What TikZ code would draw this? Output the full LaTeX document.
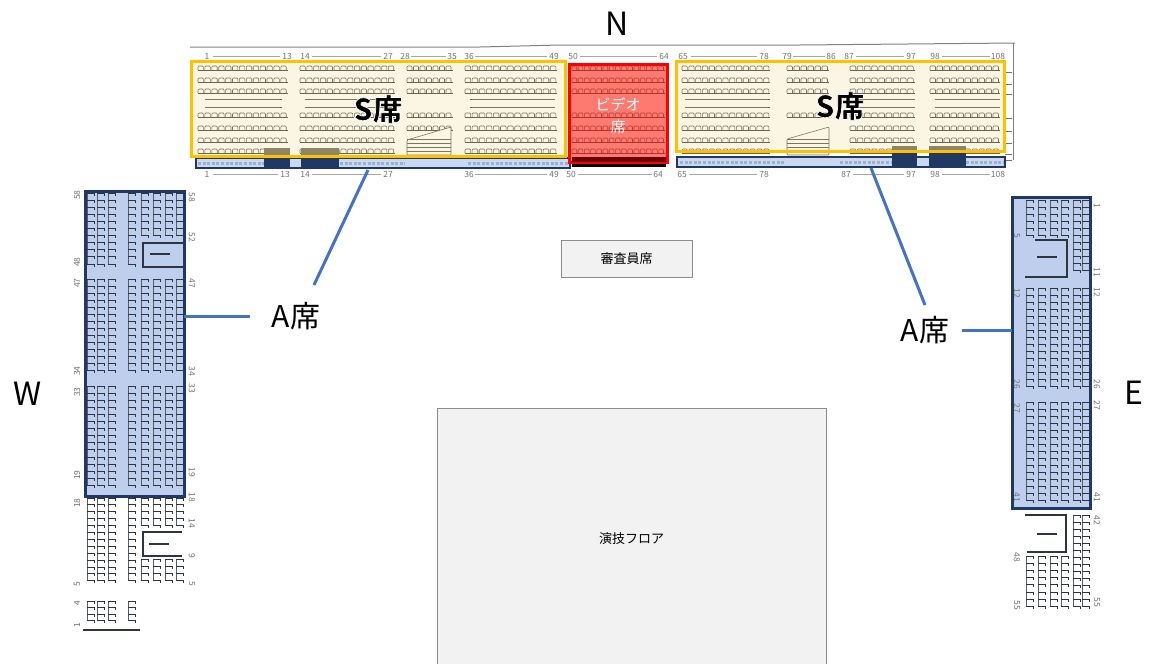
\documentclass[tikz,border=0pt]{standalone}
\usepackage{fontspec}
\setmainfont{Noto Sans CJK JP}
\newfontfamily\boldcjk{Noto Sans CJK JP Black}

\definecolor{creamfill}{HTML}{FBF5E3}
\definecolor{seatgray}{HTML}{7A7464}
\definecolor{seatdark}{HTML}{2E3440}
\definecolor{navyline}{HTML}{1F3864}
\definecolor{bluefill}{HTML}{BDCFEC}
\definecolor{leadblue}{HTML}{4472C4}
\definecolor{orangeline}{HTML}{FFC000}
\definecolor{brownbar}{HTML}{8E8468}

% heavy black letters with a white stroke round them
\newcommand{\haloed}[1]{\special{pdf:code 2 Tr 1 1 1 RG 0.7 w}#1\special{pdf:code 0 Tr}}

\tikzset{
	seatline/.style={seatgray,line width=0.6pt,rounded corners=1pt},
	railline/.style={seatgray!85!black,line width=0.9pt},
	spineline/.style={seatdark!80,line width=0.6pt},
	tickline/.style={seatdark,line width=1pt},
	stairline/.style={seatdark,line width=1.2pt},
	stripdots/.style={navyline,line width=3pt,dash pattern=on 3pt off 1.6pt},
	numline/.style={gray!70,line width=0.5pt},
	seatno/.style={gray!90!black,inner sep=0pt,font=\fontsize{8.5}{9}\selectfont},
	sbox/.style={draw=orangeline,line width=3pt,inner sep=0pt,outer sep=0pt,font=\boldcjk\fontsize{30}{31}\selectfont},
	videobox/.style={draw=red,line width=3pt,fill=red,fill opacity=0.5,inner sep=0pt,outer sep=0pt},
	videotext/.style={text=white,inner sep=0pt,align=center,font=\fontsize{15}{22}\selectfont},
	ablock/.style={fill=bluefill,inner sep=0pt,outer sep=0pt},
	astrip/.style={draw=navyline,line width=2.5pt,fill=bluefill,fill opacity=0.8,inner sep=0pt,outer sep=0pt},
	leadline/.style={leadblue,line width=3pt},
	graybox/.style={draw=gray!90,fill=black!5,line width=1pt,inner sep=0pt,outer sep=0pt,font=\fontsize{13}{14}\selectfont},
	compass/.style={inner sep=0pt,font=\fontsize{32}{34}\selectfont},
	alabel/.style={inner sep=0pt,font=\fontsize{30}{31}\selectfont}
}

% a row of seats along x: left end, top, number of seats, pitch
\newcommand{\seatsH}[4]{
	\draw[railline] (#1,#2+5) -- (#1+#3*#4,#2+5);
	\draw[seatline]
		foreach \i in {1,...,#3} {(#1+\i*#4-#4,#2+5) -- ++(0,-4) -- ++(#4-1.5,0) -- ++(0,4)};
}
% a column of seats along y: tick end x, top, number of seats, pitch
\newcommand{\seatsV}[4]{
	\draw[spineline] (#1-7,#2) -- (#1-7,#2+#3*#4-#4);
	\draw[tickline]
		foreach \i in {1,...,#3} {(#1-7,#2+\i*#4-#4) -- ++(7,0) -- ++(0,2.5)};
}

\begin{document}
\begin{tikzpicture}[x=1pt,y=-1pt]
	\useasboundingbox (0,0) rectangle (1149,664);

	% Paper under the S seats
	\fill[creamfill] (192,62) rectangle (566,156);
	\fill[creamfill] (678,62) rectangle (1005,151);
	\fill[creamfill] (569,64) rectangle (668,162);

	% A seat areas, under their seats
	\node[ablock,minimum width=99,minimum height=305] (blockW) at (134.5,343.5) {};
	\node[ablock,minimum width=78,minimum height=311] (blockE) at (1051,352.5) {};

	% Top edge of the plan
	\draw[gray,line width=1pt] (190,47) -- (480,47) -- (560,45) -- (800,45) -- (1015,43);
	\draw[gray] (1013,43) -- (1013,160);

	% Seat rows of the north stand
	\foreach \rowy in {65,77,88,112,125,137,148} {
		\seatsH{198}{\rowy}{13}{6.9}
		\seatsH{300}{\rowy}{14}{6.8}
		\seatsH{465}{\rowy}{13}{7.1}
		\seatsH{572}{\rowy}{15}{6.2}
		\seatsH{682}{\rowy}{13}{6.8}
		\seatsH{850}{\rowy}{9}{7.2}
		\seatsH{930}{\rowy}{10}{7}
	}
	\foreach \rowy in {65,77,88,112,125} {
		\seatsH{407}{\rowy}{7}{6.5}
	}
	\foreach \rowy in {65,77,88,112} {
		\seatsH{787}{\rowy}{6}{7}
	}

	% Aisles inside the stand
	\foreach \aislex/\aisleend in {205/282,305/392,470/555,685/770,855/915,935/1000} {
		\draw[seatline] (\aislex,99) -- (\aisleend,99);
		\draw[seatline] (\aislex,107) -- (\aisleend,107);
	}

	% Stair wedges
	\draw[seatline,fill=creamfill] (407,140) -- (451,127) -- (451,155) -- (407,155) -- cycle;
	\foreach \stepy in {139,143,147,151} {
		\draw[seatline] (407,\stepy) -- (451,\stepy);
	}
	\draw[seatline,fill=creamfill] (787,139) -- (829,127) -- (829,155) -- (787,155) -- cycle;
	\foreach \stepy in {139,143,147,151} {
		\draw[seatline] (787,\stepy) -- (829,\stepy);
	}

	% Row ends on the right
	\foreach \rowy in {72,84,94,118,131,143,154,160} {
		\draw[seatline] (1005,\rowy) -- (1012,\rowy);
	}

	% Brown and navy bars at the camera places
	\fill[brownbar] (264,148) rectangle (290,155);
	\fill[brownbar] (301,148) rectangle (339,155);
	\fill[brownbar] (892,146) rectangle (917,151);
	\fill[brownbar] (929,146) rectangle (966,151);

	% Seats in the front row
	\draw[stripdots] (198,163) -- (264,163);
	\draw[stripdots] (340,163) -- (405,163);
	\draw[stripdots] (468,163) -- (568,163);
	\draw[stripdots] (680,162) -- (785,162);
	\draw[stripdots] (840,162) -- (892,162);
	\draw[stripdots] (966,162) -- (1003,162);

	% Seat numbers over and under the stand
	\foreach \numx/\seat in {207/1,287/13,305/14,388/27,405/28,452/35,469/36,554/49,573/50,664/64,683/65,764/78,787/79,831/86,849/87,911/97,935/98,998/108} {
		\node[seatno] (top\seat) at (\numx,56.5) {\seat};
	}
	\foreach \numx/\seat in {207/1,285/13,305/14,388/27,469/36,554/49,571/50,658/64,682/65,764/78,846/87,911/97,935/98,998/108} {
		\node[seatno] (bot\seat) at (\numx,174) {\seat};
	}
	\foreach \from/\to in {213/280,312/381,411/446,475/547,580/657,691/757,793/825,856/904,942/990} {
		\draw[numline] (\from,56) -- (\to,56);
	}
	\foreach \from/\to in {213/278,312/381,475/547,578/652,689/757,853/904,942/990} {
		\draw[numline] (\from,174) -- (\to,174);
	}

	% West stand, seat columns
	\foreach \colx in {94,104,115,135} {
		\seatsV{\colx}{193}{11}{7.1}
		\seatsV{\colx}{279}{14}{7}
		\seatsV{\colx}{386}{15}{7.1}
		\seatsV{\colx}{498}{13}{6.9}
	}
	\foreach \colx in {148,160,172,183} {
		\seatsV{\colx}{193}{7}{7}
		\seatsV{\colx}{279}{14}{7}
		\seatsV{\colx}{386}{15}{7.1}
		\seatsV{\colx}{498}{5}{6.9}
		\seatsV{\colx}{559}{4}{7}
	}
	\foreach \colx in {94,104,115,135} {
		\seatsV{\colx}{601}{4}{6.5}
	}
	\draw[stairline] (83,630) -- (140,630);

	% West stand, stairs
	\draw[stairline] (183,243) -- (143,243) -- (143,267) -- (183,267);
	\draw[stairline] (150,254) -- (170,254);
	\draw[stairline] (182,532) -- (143,532) -- (143,556) -- (182,556);
	\draw[stairline] (149,544) -- (169,544);

	% West stand, seat numbers
	\foreach \numy/\seat in {195/58,262/48,283/47,371/34,392/33,475/19,503/18,584/5,603/4,625/1} {
		\node[seatno,rotate=90] (wl\seat) at (77,\numy) {\seat};
	}
	\foreach \numy/\seat in {197/58,237/52,283/47,371/34,388/33,472/19,497/18,523/14,556/9,584/5} {
		\node[seatno,rotate=-90] (wr\seat) at (192,\numy) {\seat};
	}

	% East stand, seat columns
	\foreach \colx in {1033,1045,1057,1068} {
		\seatsV{\colx}{200}{6}{7}
		\seatsV{\colx}{288}{15}{7}
		\seatsV{\colx}{402}{15}{7}
		\seatsV{\colx}{556}{8}{7.2}
	}
	\foreach \colx in {1080,1089} {
		\seatsV{\colx}{200}{11}{7}
		\seatsV{\colx}{288}{15}{7}
		\seatsV{\colx}{402}{15}{7}
		\seatsV{\colx}{515}{14}{7}
	}

	% East stand, stairs
	\draw[stairline] (1035,240) -- (1067,240) -- (1067,277) -- (1025,277);
	\draw[stairline] (1037,257) -- (1057,257);
	\draw[stairline] (1025,515) -- (1066,515) -- (1066,552) -- (1027,552);
	\draw[stairline] (1037,534) -- (1057,534);

	% East stand, seat numbers
	\foreach \numy/\seat in {206/1,272/11,292/12,384/26,405/27,497/41,520/42,602/55} {
		\node[seatno,rotate=-90] (er\seat) at (1097,\numy) {\seat};
	}
	\foreach \numy/\seat in {236/5,293/12,384/26,408/27,497/41,557/48,605/55} {
		\node[seatno,rotate=-90] (el\seat) at (1017,\numy) {\seat};
	}

	% Outlines of the A seat areas
	\draw[navyline,line width=3pt] (blockW.north west) rectangle (blockW.south east);
	\draw[navyline,line width=3pt] (blockE.north west) rectangle (blockE.south east);
	\node[astrip,minimum width=374,minimum height=10] (stripL) at (383,163) {};
	\node[astrip,minimum width=328,minimum height=10] (stripR) at (841,162) {};

	% Navy blocks in the strips
	\fill[navyline] (264,158) rectangle (290,168);
	\fill[navyline] (301,158) rectangle (339,168);
	\fill[navyline] (892,152) rectangle (917,167);
	\fill[navyline] (929,152) rectangle (966,167);

	% S seats and video seats
	\node[sbox,minimum width=374,minimum height=95] (sLeft) at (378,109) {\haloed{S席}};
	\node[sbox,minimum width=328,minimum height=90] (sRight) at (840,106) {\haloed{S席}};
	\fill[black] (572,163) rectangle (666,167);
	\node[videobox,minimum width=98,minimum height=98] (video) at (618,113) {};
	\node[videotext] (videolabel) at (618,116) {ビデオ\\席};
	\fill[black!30!red!60!black] (572,157) rectangle (666,162);

	% Judges and floor
	\node[graybox,minimum width=131,minimum height=37] (judges) at (626.5,258.5) {審査員席};
	\node[graybox,minimum width=389,minimum height=262] (floor) at (631.5,539) {演技フロア};

	% Compass letters
	\node[compass] (north) at (617,24) {N};
	\node[compass] (west) at (28,394) {W};
	\node[compass] (east) at (1134,393) {E};

	% A labels and their leaders
	\node[alabel] (labelAW) at (296,316) {A席};
	\node[alabel] (labelAE) at (925,330) {A席};
	\coordinate (leadL) at (368,170);
	\coordinate (leadLend) at (314,285);
	\coordinate (leadR) at (871,168);
	\coordinate (leadRend) at (925,305);
	\coordinate (leadW) at (250,316);
	\coordinate (leadE) at (962,330);
	\draw[leadline] (leadL) -- (leadLend);
	\draw[leadline] (leadR) -- (leadRend);
	\draw[leadline] (blockW.east |- leadW) -- (leadW);
	\draw[leadline] (leadE) -- (blockE.west |- leadE);
\end{tikzpicture}
\end{document}
